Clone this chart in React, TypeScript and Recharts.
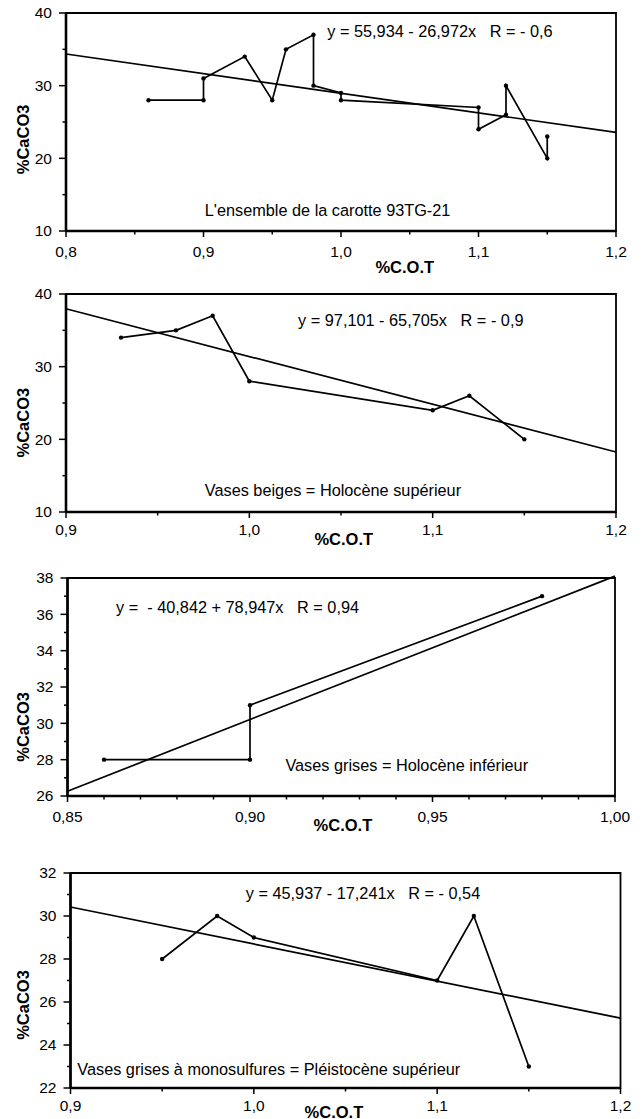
import React from 'react';
import {
  ScatterChart,
  Scatter,
  XAxis,
  YAxis,
  ReferenceLine,
  ReferenceArea,
  ReferenceDot,
} from 'recharts';

const FONT = '"Liberation Sans", Arial, Helvetica, sans-serif';

// ---------- Panel 1: L'ensemble de la carotte 93TG-21 ----------
const p1X = [0.86, 0.9, 0.9, 0.93, 0.95, 0.96, 0.98, 0.98, 1.0, 1.0, 1.1, 1.1, 1.12, 1.12, 1.15, 1.15];
const p1Y = [28, 28, 31, 34, 28, 35, 37, 30, 29, 28, 27, 24, 26, 30, 20, 23];
const p1XMajor = [0.8, 0.9, 1.0, 1.1, 1.2];
const p1XMinor = [0.85, 0.95, 1.05, 1.15];
const p1YMajor = [10, 20, 30, 40];
const p1YMinor = [15, 25, 35];
const p1Fit = [55.934, -26.972];
const p1Equation = 'y = 55,934 - 26,972x   R = - 0,6';
const p1Title = "L'ensemble de la carotte 93TG-21";
const p1EqAt = [0.99, 37.45];
const p1TitleAt = [0.9009, 12.82];

// ---------- Panel 2: Vases beiges ----------
const p2X = [0.93, 0.96, 0.98, 1.0, 1.1, 1.12, 1.15];
const p2Y = [34, 35, 37, 28, 24, 26, 20];
const p2XMajor = [0.9, 1.0, 1.1, 1.2];
const p2XMinor = [0.95, 1.05, 1.15];
const p2YMajor = [10, 20, 30, 40];
const p2YMinor = [15, 25, 35];
const p2Fit = [97.101, -65.705];
const p2Equation = 'y = 97,101 - 65,705x   R = - 0,9';
const p2Title = 'Vases beiges = Holocène supérieur';
const p2EqAt = [1.0266, 36.42];
const p2TitleAt = [0.9757, 13.03];

// ---------- Panel 3: Vases grises ----------
const p3X = [0.86, 0.9, 0.9, 0.98];
const p3Y = [28, 28, 31, 37];
const p3XMajor = [0.85, 0.9, 0.95, 1.0];
const p3XMinor = [0.86, 0.87, 0.88, 0.89, 0.91, 0.92, 0.93, 0.94, 0.96, 0.97, 0.98, 0.99];
const p3YMajor = [26, 28, 30, 32, 34, 36, 38];
const p3YMinor = [27, 29, 31, 33, 35, 37];
const p3Fit = [-40.842, 78.947];
const p3Equation = 'y =  - 40,842 + 78,947x   R = 0,94';
const p3Title = 'Vases grises = Holocène inférieur';
const p3EqAt = [0.8633, 36.4];
const p3TitleAt = [0.9097, 27.71];

// ---------- Panel 4: Vases grises à monosulfures ----------
const p4X = [0.95, 0.98, 1.0, 1.1, 1.12, 1.15];
const p4Y = [28, 30, 29, 27, 30, 23];
const p4XMajor = [0.9, 1.0, 1.1, 1.2];
const p4XMinor = [0.95, 1.05, 1.15];
const p4YMajor = [22, 24, 26, 28, 30, 32];
const p4YMinor = [23, 25, 27, 29, 31];
const p4Fit = [45.937, -17.241];
const p4Equation = 'y = 45,937 - 17,241x   R = - 0,54';
const p4Title = 'Vases grises à monosulfures = Pléistocène supérieur';
const p4EqAt = [0.9956, 31.05];
const p4TitleAt = [0.9037, 22.88];

const xLabelText = '%C.O.T';
const yLabelText = '%CaCO3';

const toPoints = (xs: number[], ys: number[]) => xs.map((x, i) => ({ x, y: ys[i] }));

const isIn = (arr: number[], v: number) => arr.some((m) => Math.abs(m - v) < 1e-9);

const fmt = (v: number, d: number) => v.toFixed(d).replace('.', ',');

const makeXTick = (majors: number[], decimals: number, labelDy: number) => (props: any) => {
  const { x, y, payload } = props;
  const v = payload.value;
  const major = isIn(majors, v);
  return (
    <g>
      <line x1={x} x2={x} y1={y} y2={y + (major ? 6 : 3.5)} stroke="#000" strokeWidth={1.5} />
      {major && (
        <text
          x={x}
          y={y + labelDy}
          dy="0.35em"
          textAnchor="middle"
          fontSize={15.5}
          fontFamily={FONT}
          fill="#000"
        >
          {fmt(v, decimals)}
        </text>
      )}
    </g>
  );
};

const makeYTick = (majors: number[]) => (props: any) => {
  const { x, y, payload } = props;
  const v = payload.value;
  const major = isIn(majors, v);
  return (
    <g>
      <line x1={x - (major ? 7 : 3.5)} x2={x} y1={y} y2={y} stroke="#000" strokeWidth={1.5} />
      {major && (
        <text
          x={x - 14}
          y={y}
          dy="0.35em"
          textAnchor="end"
          fontSize={15.5}
          fontFamily={FONT}
          fill="#000"
        >
          {String(v)}
        </text>
      )}
    </g>
  );
};

const makeXLabel = (frac: number, dy: number) => (props: any) => {
  const vb = props.viewBox;
  return (
    <text
      x={vb.x + frac * vb.width}
      y={vb.y + dy}
      dy="0.35em"
      textAnchor="middle"
      fontSize={16.5}
      fontWeight="bold"
      fontFamily={FONT}
      fill="#000"
    >
      {xLabelText}
    </text>
  );
};

const makeYLabel = (cxOff: number, frac: number) => (props: any) => {
  const vb = props.viewBox;
  const cx = vb.x + cxOff;
  const cy = vb.y + frac * vb.height;
  return (
    <text
      x={cx}
      y={cy}
      dy="0.35em"
      transform={`rotate(-90, ${cx}, ${cy})`}
      textAnchor="middle"
      fontSize={16.5}
      fontWeight="bold"
      fontFamily={FONT}
      fill="#000"
    >
      {yLabelText}
    </text>
  );
};

const makeAnnot = (text: string) => (props: any) => {
  const vb = props.viewBox;
  return (
    <text
      x={vb.x}
      y={vb.y}
      dy="0.35em"
      textAnchor="start"
      fontSize={16.3}
      fontFamily={FONT}
      fill="#000"
      style={{ whiteSpace: 'pre' }}
    >
      {text}
    </text>
  );
};

const Dot = (props: any) => {
  if (props.cx == null || props.cy == null) return null;
  return <circle cx={props.cx} cy={props.cy} r={2.2} fill="#000" />;
};

type PanelProps = {
  xs: number[];
  ys: number[];
  xMajor: number[];
  xMinor: number[];
  yMajor: number[];
  yMinor: number[];
  fit: number[];
  equation: string;
  title: string;
  eqAt: number[];
  titleAt: number[];
  decimals: number;
  layout: {
    plotLeft: number;
    plotRight: number;
    plotTop: number;
    plotBottom: number;
    xTickDy: number;
    xLabelFrac: number;
    xLabelDy: number;
    yLabelFrac: number;
  };
};

const Panel = (p: PanelProps) => {
  const L = p.layout;
  const mTop = 10;
  const mRight = 24;
  const axisH = 50;
  const width = L.plotRight - 8 + mRight;
  const height = mTop + (L.plotBottom - L.plotTop) + axisH;
  const yAxisW = L.plotLeft - 8;
  const xDomain = [p.xMajor[0], p.xMajor[p.xMajor.length - 1]];
  const yDomain = [p.yMajor[0], p.yMajor[p.yMajor.length - 1]];
  const xTicks = [...p.xMajor, ...p.xMinor].sort((a, b) => a - b);
  const yTicks = [...p.yMajor, ...p.yMinor].sort((a, b) => a - b);
  const data = toPoints(p.xs, p.ys);
  const fitLine = xDomain.map((x) => ({ x, y: p.fit[0] + p.fit[1] * x }));

  return (
    <div style={{ position: 'absolute', left: 0, top: L.plotTop - 8 - mTop }}>
      <ScatterChart width={width} height={height} margin={{ top: mTop, right: mRight, bottom: 0, left: 0 }}>
        <XAxis
          type="number"
          dataKey="x"
          domain={xDomain}
          ticks={xTicks}
          interval={0}
          allowDataOverflow
          height={axisH}
          tickSize={0}
          tickMargin={0}
          tickLine={false}
          axisLine={{ stroke: '#000', strokeWidth: 2.6 }}
          tick={makeXTick(p.xMajor, p.decimals, L.xTickDy)}
          label={makeXLabel(L.xLabelFrac, L.xLabelDy)}
        />
        <YAxis
          type="number"
          dataKey="y"
          domain={yDomain}
          ticks={yTicks}
          interval={0}
          allowDataOverflow
          width={yAxisW}
          tickSize={0}
          tickMargin={0}
          tickLine={false}
          axisLine={{ stroke: '#000', strokeWidth: 2.6 }}
          tick={makeYTick(p.yMajor)}
          label={makeYLabel(23 - 8, L.yLabelFrac)}
        />
        <ReferenceArea
          x1={xDomain[0]}
          x2={xDomain[1]}
          y1={yDomain[0]}
          y2={yDomain[1]}
          fill="none"
          fillOpacity={0}
          stroke="#000"
          strokeWidth={1.8}
          ifOverflow="visible"
        />
        <ReferenceLine
          segment={[fitLine[0], fitLine[1]]}
          stroke="#000"
          strokeWidth={1.7}
          ifOverflow="visible"
        />
        <Scatter
          data={data}
          line={{ stroke: '#000', strokeWidth: 1.7 }}
          lineJointType="linear"
          shape={Dot}
          isAnimationActive={false}
        />
        <ReferenceDot
          x={p.eqAt[0]}
          y={p.eqAt[1]}
          r={0}
          fill="none"
          stroke="none"
          ifOverflow="visible"
          label={makeAnnot(p.equation)}
        />
        <ReferenceDot
          x={p.titleAt[0]}
          y={p.titleAt[1]}
          r={0}
          fill="none"
          stroke="none"
          ifOverflow="visible"
          label={makeAnnot(p.title)}
        />
      </ScatterChart>
    </div>
  );
};

export default function App() {
  return (
    <div style={{ position: 'relative', width: 635, height: 1111, background: '#fff' }}>
      <Panel
        xs={p1X}
        ys={p1Y}
        xMajor={p1XMajor}
        xMinor={p1XMinor}
        yMajor={p1YMajor}
        yMinor={p1YMinor}
        fit={p1Fit}
        equation={p1Equation}
        title={p1Title}
        eqAt={p1EqAt}
        titleAt={p1TitleAt}
        decimals={1}
        layout={{ plotLeft: 66, plotRight: 616, plotTop: 12.5, plotBottom: 230.5, xTickDy: 20.5, xLabelFrac: 0.616, xLabelDy: 36, yLabelFrac: 0.58 }}
      />
      <Panel
        xs={p2X}
        ys={p2Y}
        xMajor={p2XMajor}
        xMinor={p2XMinor}
        yMajor={p2YMajor}
        yMinor={p2YMinor}
        fit={p2Fit}
        equation={p2Equation}
        title={p2Title}
        eqAt={p2EqAt}
        titleAt={p2TitleAt}
        decimals={1}
        layout={{ plotLeft: 66, plotRight: 616, plotTop: 294, plotBottom: 512, xTickDy: 18, xLabelFrac: 0.505, xLabelDy: 27, yLabelFrac: 0.59 }}
      />
      <Panel
        xs={p3X}
        ys={p3Y}
        xMajor={p3XMajor}
        xMinor={p3XMinor}
        yMajor={p3YMajor}
        yMinor={p3YMinor}
        fit={p3Fit}
        equation={p3Equation}
        title={p3Title}
        eqAt={p3EqAt}
        titleAt={p3TitleAt}
        decimals={2}
        layout={{ plotLeft: 67.5, plotRight: 615, plotTop: 578, plotBottom: 796, xTickDy: 21, xLabelFrac: 0.503, xLabelDy: 29.5, yLabelFrac: 0.683 }}
      />
      <Panel
        xs={p4X}
        ys={p4Y}
        xMajor={p4XMajor}
        xMinor={p4XMinor}
        yMajor={p4YMajor}
        yMinor={p4YMinor}
        fit={p4Fit}
        equation={p4Equation}
        title={p4Title}
        eqAt={p4EqAt}
        titleAt={p4TitleAt}
        decimals={1}
        layout={{ plotLeft: 70.5, plotRight: 620.5, plotTop: 873, plotBottom: 1088, xTickDy: 17.5, xLabelFrac: 0.479, xLabelDy: 24, yLabelFrac: 0.614 }}
      />
    </div>
  );
}
